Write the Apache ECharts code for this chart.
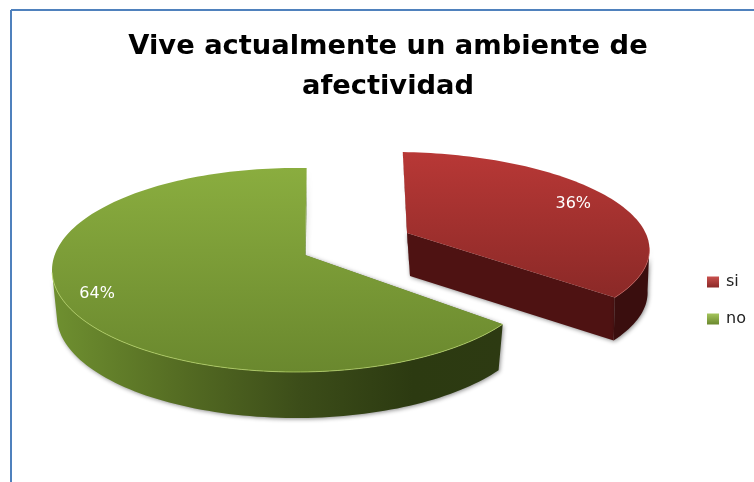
<!DOCTYPE html>
<html>
<head>
<meta charset="utf-8">
<style>html,body{margin:0;padding:0;background:#fff}#c{width:754px;height:482px}</style>
<script src="https://cdn.jsdelivr.net/npm/echarts@6/dist/echarts.min.js"></script>
</head>
<body>
<div id="c"></div>
<script>
var titleText = 'Vive actualmente un ambiente de\nafectividad';
var categories = ['si', 'no'];
var values = [36, 64];

var chart = echarts.init(document.getElementById('c'), null, {renderer: 'canvas'});
var total = values[0] + values[1];
var LG = echarts.graphic.LinearGradient;

// Perspective projection of the pie disc onto the screen
var E = {cx: 296, cy: 270, rx: 244, ry: 102, depth: 46, shrink: 0.98};
var P = {x: 0.037, y: -0.147};
var pn = Math.sqrt(P.x * P.x + P.y * P.y);
var qf = 1 / (1 + Math.sqrt(1 - pn * pn));
var Q = {x: P.x * qf, y: P.y * qf};
var ROT = 0.6;

function proj(deg) {
  var t = (deg + ROT) * Math.PI / 180;
  var zx = Math.sin(t), zy = -Math.cos(t);
  var nx = zx + Q.x, ny = zy + Q.y;
  var dx = 1 + (Q.x * zx + Q.y * zy), dy = Q.x * zy - Q.y * zx;
  var d = dx * dx + dy * dy;
  return [E.cx + E.rx * (nx * dx + ny * dy) / d, E.cy + E.ry * (ny * dx - nx * dy) / d];
}
var apex = [E.cx + E.rx * P.x, E.cy + E.ry * P.y];
function down(p) {
  return [E.cx + (p[0] - E.cx) * E.shrink, p[1] + E.depth];
}
function identity(p) { return p; }
// exploded slice: the red wedge pulled out towards the back right
function explode(p) {
  return [402 + 1.027 * (p[0] - 306) + 0.0685 * (p[1] - 167), 151 + 0.932 * (p[1] - 167)];
}
function arcPts(a0, a1) {
  var n = Math.ceil(Math.abs(a1 - a0) / 1.5), r = [];
  for (var i = 0; i <= n; i++) r.push(proj(a0 + (a1 - a0) * i / n));
  return r;
}
function isFront(p) { return p[1] >= E.cy; }

var looks = [
  {
    map: explode, labelT: 0.82,
    top: new LG(0, 0, 0, 1, [{offset: 0, color: '#b83836'}, {offset: 1, color: '#8b2927'}]),
    side: '#3a0e0e', cut: '#4e1212', rim: 'rgba(215,110,105,0.55)'
  },
  {
    map: identity, labelT: 0.86,
    top: new LG(0, 0, 0, 1, [{offset: 0, color: '#8aad3f'}, {offset: 1, color: '#6a882e'}]),
    side: new LG(0, 0, 1, 0, [
      {offset: 0, color: '#6f9030'}, {offset: 0.3, color: '#536a22'},
      {offset: 0.55, color: '#3c4d19'}, {offset: 0.8, color: '#2c3a11'}, {offset: 1, color: '#2d3a12'}
    ]),
    cut: '#5f7d2a', rim: 'rgba(190,220,110,0.7)'
  }
];
var legendColors = [
  new LG(0, 0, 0, 1, [{offset: 0, color: '#c9504d'}, {offset: 1, color: '#8b2927'}]),
  new LG(0, 0, 0, 1, [{offset: 0, color: '#a5c55c'}, {offset: 1, color: '#6a882e'}])
];

function renderSlice(idx) {
  var start = 0;
  for (var i = 0; i < idx; i++) start += values[i] / total * 360;
  var end = start + values[idx] / total * 360;
  var look = looks[idx], m = look.map;
  return function () {
    var arc = arcPts(start, end);
    var front = arc.filter(isFront);
    var topArc = arc.map(m);
    var sideTop = front.map(m);
    var sideBot = front.map(function (p) { return m(down(p)); });
    var a = m(apex), aB = m(down(apex));
    var s = topArc[0], e = topArc[topArc.length - 1], eB = m(down(arc[arc.length - 1]));
    var mid = m(proj((start + end) / 2));
    var lab = [a[0] + (mid[0] - a[0]) * look.labelT, a[1] + (mid[1] - a[1]) * look.labelT];
    var shadow = {shadowColor: 'rgba(0,0,0,0.45)', shadowBlur: 4, shadowOffsetX: 1, shadowOffsetY: 1};
    return {
      type: 'group',
      children: [
        {type: 'polygon', shape: {points: [s, a, aB]},
          style: Object.assign({fill: look.cut}, shadow)},
        {type: 'polygon', shape: {points: [a, e, eB, aB]},
          style: Object.assign({fill: look.cut}, shadow)},
        {type: 'polygon', shape: {points: sideTop.concat(sideBot.slice().reverse())},
          style: Object.assign({fill: look.side}, shadow)},
        {type: 'polygon', shape: {points: [a].concat(topArc)},
          style: {fill: look.top}},
        {type: 'polyline', shape: {points: sideTop},
          style: {fill: 'none', stroke: look.rim, lineWidth: 1}},
        {type: 'text', x: lab[0], y: lab[1],
          style: {text: Math.round(values[idx] / total * 100) + '%', fill: '#fff',
            font: '16px "DejaVu Sans"', align: 'center', verticalAlign: 'middle'}}
      ]
    };
  };
}

chart.setOption({
  animation: false,
  backgroundColor: '#fff',
  title: {
    text: titleText, left: 383, top: 22, textAlign: 'center',
    textStyle: {fontFamily: 'DejaVu Sans', fontWeight: 'bold', fontSize: 27.3, lineHeight: 40, color: '#000'}
  },
  legend: {
    orient: 'vertical', left: 702, top: 269, itemWidth: 12, itemHeight: 11, itemGap: 21,
    data: categories.map(function (c, i) { return {name: c, icon: 'rect', itemStyle: {color: legendColors[i]}}; }),
    textStyle: {fontFamily: 'DejaVu Sans', fontSize: 16, color: '#222', padding: [0, 0, 0, 2]}
  },
  graphic: [
    {type: 'line', shape: {x1: 11, y1: 10, x2: 754, y2: 10}, style: {stroke: '#4f81bd', lineWidth: 2}},
    {type: 'line', shape: {x1: 11, y1: 10, x2: 11, y2: 482}, style: {stroke: '#4f81bd', lineWidth: 2}}
  ],
  series: categories.map(function (c, i) {
    return {
      type: 'custom', name: c, coordinateSystem: 'none',
      data: [values[i]],
      itemStyle: {color: legendColors[i]},
      renderItem: renderSlice(i)
    };
  })
});
</script>
</body>
</html>
